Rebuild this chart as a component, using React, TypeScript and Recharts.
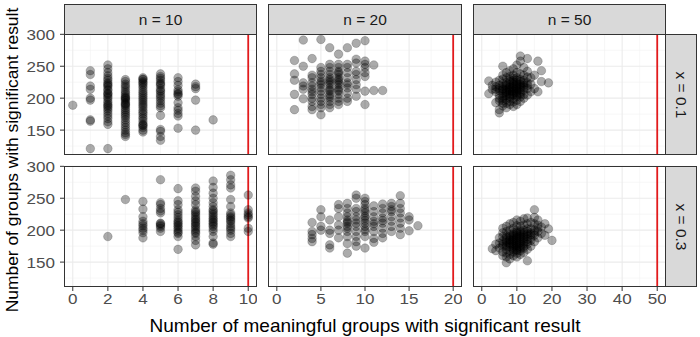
import React from 'react'
import { ScatterChart, Scatter, XAxis, YAxis, CartesianGrid, ReferenceLine } from 'recharts'

// each column: [meaningful groups, [groups with significant result...]]
type Col = [number, number[]]

const n10_x01: Col[] = [
  [0, [189]],
  [1, [243, 237, 219, 214, 200, 197, 166, 164, 121]],
  [2, [252, 246, 240, 235, 231, 228, 224, 222, 220, 218, 214, 212, 208, 207, 205, 202, 200, 196, 193, 190, 188, 186, 183, 180, 176, 172, 168, 163, 159, 121]],
  [3, [229, 226, 222, 219, 216, 212, 209, 206, 203, 201, 200, 198, 196, 193, 191, 190, 188, 185, 182, 179, 176, 173, 170, 166, 162, 158, 154, 150, 146, 143, 140]],
  [4, [232, 230, 229, 226, 224, 222, 219, 216, 212, 209, 206, 203, 200, 197, 194, 191, 188, 185, 181, 178, 175, 171, 168, 164, 160, 158, 157, 154, 150, 147]],
  [5, [238, 234, 231, 228, 224, 222, 220, 215, 212, 210, 206, 203, 200, 196, 192, 188, 185, 173, 151, 148, 140, 134]],
  [6, [232, 226, 220, 213, 210, 207, 206, 203, 193, 185, 181, 176, 172, 153]],
  [7, [222, 218, 215, 197, 150]],
  [8, [166]],
]

const n10_x03: Col[] = [
  [2, [190]],
  [3, [248]],
  [4, [245, 233, 221, 214, 210, 207, 203, 200, 196, 188]],
  [5, [279, 243, 240, 234, 230, 227, 211, 210, 208, 206, 203, 198]],
  [6, [265, 246, 240, 232, 228, 224, 220, 216, 213, 211, 208, 206, 203, 200, 197, 195, 190, 170]],
  [7, [266, 261, 253, 246, 240, 232, 229, 227, 224, 221, 218, 216, 213, 211, 208, 206, 203, 200, 197, 195, 190, 184, 177]],
  [8, [277, 267, 258, 250, 243, 237, 232, 230, 227, 224, 221, 218, 216, 213, 211, 208, 206, 202, 198, 190, 180, 178]],
  [9, [286, 279, 271, 266, 248, 237, 227, 224, 221, 219, 216, 214, 210, 206, 203, 200, 195, 190]],
  [10, [255, 232, 227, 224, 221, 219, 203, 198]],
]

const n20_x01: Col[] = [
  [2, [259, 238, 228, 206, 182]],
  [3, [291, 250, 224, 219, 214, 199]],
  [4, [262, 236, 232, 224, 219, 214, 210, 206, 200, 195, 187, 182]],
  [5, [292, 248, 242, 237, 232, 227, 224, 221, 216, 211, 206, 200, 195, 190, 185, 174]],
  [6, [279, 253, 248, 242, 237, 232, 229, 227, 224, 221, 216, 213, 211, 206, 203, 200, 195, 190, 185]],
  [7, [269, 253, 248, 242, 240, 237, 232, 229, 227, 224, 221, 216, 213, 211, 206, 200, 195, 190]],
  [8, [279, 253, 248, 240, 232, 224, 221, 216, 208, 200, 195]],
  [9, [286, 261, 255, 242, 237, 229, 221, 214, 203]],
  [10, [290, 258, 253, 248, 240, 234, 211, 190]],
  [11, [252, 212]],
  [12, [212]],
]

const n20_x03: Col[] = [
  [4, [212, 198, 193, 187, 182]],
  [5, [232, 221, 206, 200]],
  [6, [216, 200, 195, 177, 172]],
  [7, [240, 234, 221, 208, 200, 188]],
  [8, [242, 234, 227, 221, 216, 213, 211, 206, 203, 198, 190, 179, 164]],
  [9, [255, 250, 234, 229, 221, 216, 211, 206, 198, 190, 182, 175]],
  [10, [250, 245, 240, 234, 231, 227, 222, 219, 215, 211, 206, 201, 198, 190, 172]],
  [11, [238, 229, 221, 214, 210, 206, 198, 187, 181]],
  [12, [241, 234, 227, 219, 215, 211, 203, 195, 188]],
  [13, [242, 237, 232, 229, 221, 214, 206, 198]],
  [14, [254, 242, 234, 227, 219, 211, 203, 193]],
  [15, [221, 216, 199]],
  [16, [207]],
]

// n = 50 clouds, [x, y] pairs
const n50_x01: [number, number][] = [
  [2, 227], [2, 207], [3, 214], [3, 220], [4, 193], [4, 210], [4, 214], [4, 218], [4, 225],
  [5, 177], [5, 182], [5, 196], [5, 200], [5, 205], [5, 212], [5, 215], [5, 220], [5, 228],
  [6, 250], [6, 188], [6, 192], [6, 196], [6, 200], [6, 203], [6, 208], [6, 213], [6, 215], [6, 218], [6, 223], [6, 230], [6, 236],
  [7, 185], [7, 192], [7, 198], [7, 204], [7, 206], [7, 209], [7, 211], [7, 214], [7, 219], [7, 221], [7, 224], [7, 232], [7, 240],
  [8, 190], [8, 195], [8, 200], [8, 203], [8, 206], [8, 211], [8, 213], [8, 216], [8, 218], [8, 221], [8, 226], [8, 229], [8, 234], [8, 243],
  [9, 187], [9, 194], [9, 199], [9, 205], [9, 207], [9, 210], [9, 212], [9, 215], [9, 218], [9, 222], [9, 225], [9, 228], [9, 231], [9, 236], [9, 246],
  [10, 190], [10, 197], [10, 203], [10, 205], [10, 208], [10, 211], [10, 214], [10, 216], [10, 219], [10, 222], [10, 225], [10, 228], [10, 232], [10, 240], [10, 252],
  [11, 266], [11, 195], [11, 202], [11, 206], [11, 209], [11, 213], [11, 216], [11, 219], [11, 222], [11, 226], [11, 229], [11, 238], [11, 258],
  [12, 200], [12, 206], [12, 213], [12, 217], [12, 220], [12, 224], [12, 228], [12, 236], [12, 248],
  [13, 262], [13, 205], [13, 215], [13, 220], [13, 224], [13, 233], [13, 242],
  [14, 210], [14, 222], [14, 232], [15, 215], [15, 236], [16, 258], [16, 210], [17, 243], [17, 226], [19, 224],
]

const n50_x03: [number, number][] = [
  [3, 171], [4, 178], [4, 168], [5, 172], [5, 180], [5, 188],
  [6, 203], [6, 160], [6, 166], [6, 175], [6, 178], [6, 183], [6, 190], [6, 196],
  [7, 149], [7, 158], [7, 164], [7, 170], [7, 174], [7, 177], [7, 181], [7, 184], [7, 188], [7, 191], [7, 198], [7, 206],
  [8, 155], [8, 162], [8, 168], [8, 174], [8, 178], [8, 180], [8, 184], [8, 186], [8, 190], [8, 193], [8, 200], [8, 210],
  [9, 160], [9, 166], [9, 169], [9, 172], [9, 175], [9, 178], [9, 181], [9, 184], [9, 187], [9, 190], [9, 193], [9, 196], [9, 203], [9, 212],
  [10, 158], [10, 164], [10, 168], [10, 170], [10, 173], [10, 176], [10, 179], [10, 182], [10, 185], [10, 188], [10, 191], [10, 194], [10, 197], [10, 200], [10, 207], [10, 216],
  [11, 162], [11, 168], [11, 171], [11, 174], [11, 177], [11, 180], [11, 183], [11, 187], [11, 190], [11, 193], [11, 196], [11, 199], [11, 206], [11, 214],
  [12, 165], [12, 172], [12, 175], [12, 179], [12, 182], [12, 186], [12, 189], [12, 193], [12, 196], [12, 200], [12, 208], [12, 218],
  [13, 152], [13, 170], [13, 178], [13, 182], [13, 186], [13, 190], [13, 194], [13, 198], [13, 202], [13, 210], [13, 219],
  [14, 175], [14, 184], [14, 188], [14, 193], [14, 196], [14, 202], [14, 212],
  [15, 232], [15, 182], [15, 192], [15, 196], [15, 200], [15, 210], [15, 220],
  [16, 188], [16, 198], [16, 203], [16, 208], [16, 216], [17, 195], [17, 205], [18, 192], [18, 210], [19, 202], [20, 184],
]

const Y_DOMAIN = [111, 300.5]
const Y_TICKS = [150, 200, 250, 300]
const Y_MINOR = [125, 175, 225, 275]

const N10_TICKS = [0, 2, 4, 6, 8, 10]
const N10_MINOR = [1, 3, 5, 7, 9]
const N20_TICKS = [0, 5, 10, 15, 20]
const N20_MINOR = [2.5, 7.5, 12.5, 17.5]
const N50_TICKS = [0, 10, 20, 30, 40, 50]
const N50_MINOR = [5, 15, 25, 35, 45]

const COL_LABELS = ['n = 10', 'n = 20', 'n = 50']
const ROW_LABELS = ['x = 0.1', 'x = 0.3']

const COL_LEFT = [64, 268, 473]
const COL_W = [193, 194, 193]
const ROW_TOP = [34, 166]
const PANEL_H = 121
const PAD = 10 // room above each panel so the top tick label isn't clipped
const FONT = '"Liberation Sans", Arial, sans-serif'

const fromCols = (cols: Col[]) => cols.flatMap(([x, ys]) => ys.map(y => ({ x, y })))
const fromPairs = (p: [number, number][]) => p.map(([x, y]) => ({ x, y }))

const COLS = [
  { domain: [-0.5, 10.5], ticks: N10_TICKS, minor: N10_MINOR, n: 10, data: [fromCols(n10_x01), fromCols(n10_x03)] },
  { domain: [-1, 21], ticks: N20_TICKS, minor: N20_MINOR, n: 20, data: [fromCols(n20_x01), fromCols(n20_x03)] },
  { domain: [-2.5, 52.5], ticks: N50_TICKS, minor: N50_MINOR, n: 50, data: [fromPairs(n50_x01), fromPairs(n50_x03)] },
]

const Dot = (p: any) => (
  <circle cx={p.cx} cy={p.cy} r={4.3} fill="#000" fillOpacity={0.33} stroke="#000" strokeOpacity={0.3} strokeWidth={0.6} />
)

// tick labels in the original are a touch wider than Liberation Sans
const makeTick = (dy: string) => (p: any) => (
  <g transform={`translate(${p.x},${p.y}) scale(1.1,1)`}>
    <text x={0} y={0} dy={dy} textAnchor={p.textAnchor} fill="#4D4D4D" fontSize={15.5} fontFamily={FONT}>
      {p.payload.value}
    </text>
  </g>
)
const XTick = makeTick('0.71em')
const YTick = makeTick('0.355em')

function Panel({ col, row }: { col: number; row: number }) {
  const c = COLS[col]
  const yw = col === 0 ? 64 : 0
  const xh = row === 1 ? 34 : 0
  return (
    <div style={{ position: 'absolute', left: COL_LEFT[col] - yw, top: ROW_TOP[row] - PAD }}>
      <ScatterChart width={COL_W[col] + yw} height={PANEL_H + xh + PAD} margin={{ top: PAD, right: 0, bottom: 0, left: 0 }}>
        <CartesianGrid stroke="#F2F2F2" strokeWidth={0.6} horizontalValues={Y_MINOR} verticalValues={c.minor} />
        <CartesianGrid stroke="#EBEBEB" strokeWidth={1.1} horizontalValues={Y_TICKS} verticalValues={c.ticks} />
        <XAxis
          type="number" dataKey="x" domain={c.domain} ticks={c.ticks} allowDataOverflow
          hide={row === 0} height={xh} axisLine={false} tickSize={4} tickMargin={2}
          tickLine={{ stroke: '#333333' }} tick={XTick} interval={0}
        />
        <YAxis
          type="number" dataKey="y" domain={Y_DOMAIN} ticks={Y_TICKS} allowDataOverflow
          hide={col !== 0} width={yw} axisLine={false} tickSize={4} tickMargin={5}
          tickLine={{ stroke: '#333333' }} tick={YTick} interval={0}
        />
        <Scatter data={c.data[row]} isAnimationActive={false} shape={Dot} />
        <ReferenceLine x={c.n} stroke="#E31A1C" strokeWidth={1.8} />
      </ScatterChart>
    </div>
  )
}

export default function App() {
  return (
    <div style={{ position: 'relative', width: 700, height: 337, background: '#fff', fontFamily: FONT, overflow: 'hidden' }}>
      <style>{'body{margin:0}'}</style>
      {[0, 1].map(r => [0, 1, 2].map(c => <Panel key={`${r}-${c}`} col={c} row={r} />))}
      {/* panel borders */}
      {[0, 1].map(r => [0, 1, 2].map(c => (
        <div key={`b${r}-${c}`} style={{
          position: 'absolute', left: COL_LEFT[c], top: ROW_TOP[r], width: COL_W[c], height: PANEL_H,
          border: '1px solid #333333', boxSizing: 'border-box', pointerEvents: 'none',
        }} />
      )))}
      {/* top strips */}
      {COL_LABELS.map((t, c) => (
        <div key={t} style={{
          position: 'absolute', left: COL_LEFT[c], top: 4, width: COL_W[c], height: 31,
          background: '#D9D9D9', border: '1px solid #333333', boxSizing: 'border-box',
          display: 'flex', alignItems: 'center', justifyContent: 'center', fontSize: 15.5, color: '#1A1A1A',
        }}>{t}</div>
      ))}
      {/* right strips */}
      {ROW_LABELS.map((t, r) => (
        <div key={t} style={{
          position: 'absolute', left: 665, top: ROW_TOP[r], width: 32, height: PANEL_H,
          background: '#D9D9D9', border: '1px solid #333333', boxSizing: 'border-box',
          display: 'flex', alignItems: 'center', justifyContent: 'center', fontSize: 15.5, color: '#1A1A1A',
        }}>
          <span style={{ transform: 'rotate(90deg)', whiteSpace: 'nowrap' }}>{t}</span>
        </div>
      ))}
      <div style={{ position: 'absolute', left: 0, width: 730, top: 315, textAlign: 'center', fontSize: 19, lineHeight: '22px', color: '#000' }}>
        Number of meaningful groups with significant result
      </div>
      <div style={{
        position: 'absolute', left: 12, top: 160, fontSize: 17.4, lineHeight: '20px', color: '#000', whiteSpace: 'nowrap',
        transform: 'translate(-50%, -50%) rotate(-90deg)',
      }}>
        Number of groups with significant result
      </div>
    </div>
  )
}
